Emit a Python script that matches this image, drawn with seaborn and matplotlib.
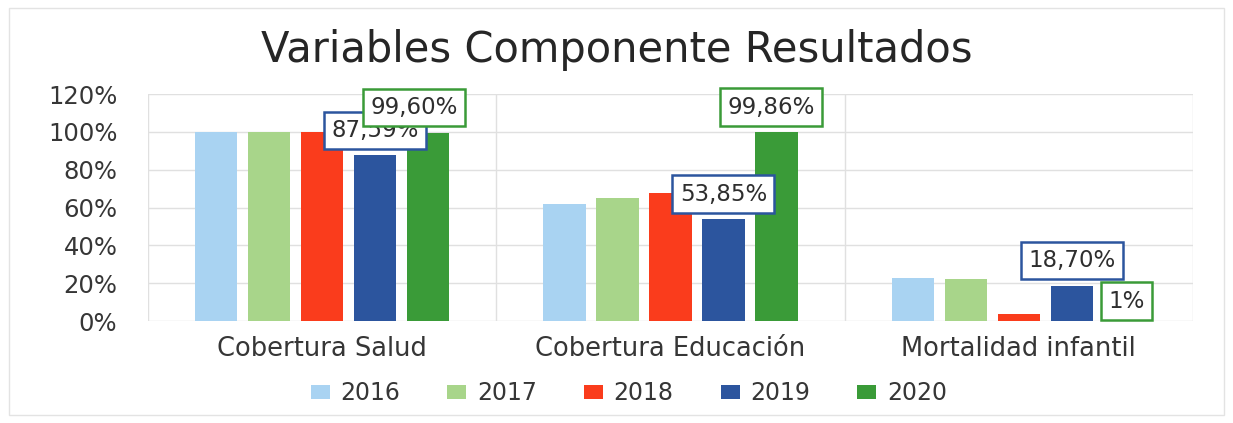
import matplotlib
matplotlib.use("Agg")
import matplotlib.pyplot as plt
import matplotlib.patches as mpatches
import pandas as pd
import seaborn as sns

# Indicator groups and reporting years
categorias = ["Cobertura Salud", "Cobertura Educación", "Mortalidad infantil"]
anios = ["2016", "2017", "2018", "2019", "2020"]

# Yearly values (fraction of 1) per indicator
v2016 = [1.000, 0.620, 0.227]
v2017 = [1.000, 0.650, 0.222]
v2018 = [1.000, 0.677, 0.036]
v2019 = [0.8759, 0.5385, 0.1870]
v2020 = [0.9960, 0.9986, 0.0100]

# Bars that carry a boxed value label: (indicator, year, decimals)
etiquetas = [
    ("Cobertura Salud", "2019", 2),
    ("Cobertura Salud", "2020", 2),
    ("Cobertura Educación", "2019", 2),
    ("Cobertura Educación", "2020", 2),
    ("Mortalidad infantil", "2019", 2),
    ("Mortalidad infantil", "2020", 0),
]

yticks = [0, 0.2, 0.4, 0.6, 0.8, 1.0, 1.2]
ytick_labels = ["0%", "20%", "40%", "60%", "80%", "100%", "120%"]

colores = ["#A9D3F2", "#A8D58A", "#FA3C1C", "#2C559E", "#3A9B38"]

series = [v2016, v2017, v2018, v2019, v2020]
df = pd.DataFrame(
    [(c, a, s[i]) for a, s in zip(anios, series) for i, c in enumerate(categorias)],
    columns=["categoria", "anio", "valor"],
)

sns.set_theme(style="white")
plt.rcParams["font.family"] = ["DejaVu Sans"]
texto = "#363636"

fig = plt.figure(figsize=(12.33, 4.23), dpi=100)
ax = fig.add_axes([0.1200, 0.2411, 0.8476, 0.5366])

sns.barplot(
    data=df, x="categoria", y="valor", hue="anio",
    order=categorias, hue_order=anios, palette=colores,
    width=0.76, gap=0.2, saturation=1, ax=ax, legend=False,
    edgecolor="none", linewidth=0,
)

ax.set_ylim(0, 1.2)
ax.set_xlim(-0.5, len(categorias) - 0.5)
ax.set_yticks(yticks)
ax.set_yticklabels(ytick_labels)
ax.set_xlabel("")
ax.set_ylabel("")
ax.tick_params(axis="y", length=0, pad=22, labelsize=17.5, labelcolor=texto)
ax.tick_params(axis="x", length=0, pad=11, labelsize=18.5, labelcolor=texto)
for lab in ax.get_yticklabels():
    lab.set_horizontalalignment("right")

# light horizontal grid and separators between indicator groups
ax.set_axisbelow(True)
ax.yaxis.grid(True, color="#E0E0E0", linewidth=1.0)
for xs in [-0.5 + k for k in range(len(categorias) + 1)]:
    ax.axvline(xs, color="#E0E0E0", linewidth=1.0, zorder=0)
for s in ax.spines.values():
    s.set_visible(False)

# boxed value labels above selected bars
desplaz = {
    ("Cobertura Salud", "2019"): (0, 18),
    ("Cobertura Salud", "2020"): (-10, 18),
    ("Cobertura Educación", "2019"): (0, 18),
    ("Cobertura Educación", "2020"): (-4, 18),
    ("Mortalidad infantil", "2019"): (0, 18),
    ("Mortalidad infantil", "2020"): (1, 13),
}
for cat, anio, dec in etiquetas:
    ci = categorias.index(cat)
    ai = anios.index(anio)
    bar = ax.containers[ai][ci]
    valor = series[ai][ci]
    txt = f"{valor * 100:.{dec}f}%".replace(".", ",")
    dx, dy = desplaz[(cat, anio)]
    ax.annotate(
        txt,
        xy=(bar.get_x() + bar.get_width() / 2, bar.get_height()),
        xytext=(dx, dy), textcoords="offset points",
        ha="center", va="center", fontsize=16.5, color="#2E2E2E", zorder=5 + ai,
        bbox=dict(boxstyle="square,pad=0.32", facecolor="white",
                  edgecolor=colores[ai], linewidth=1.8),
    )

fig.text(0.5, 0.882, "Variables Componente Resultados", ha="center", va="center",
         fontsize=30, color="#262626")

handles = [mpatches.Patch(facecolor=c, edgecolor="none") for c in colores]
fig.legend(handles, anios, loc="center", bbox_to_anchor=(0.510, 0.071), ncol=5,
           frameon=False, fontsize=17, labelcolor=texto, handlelength=0.8,
           handleheight=0.55, handletextpad=0.45, columnspacing=2.0)

# faint outer chart frame
fig.patches.append(mpatches.Rectangle((0.007, 0.02), 0.986, 0.96, transform=fig.transFigure,
                                      fill=False, edgecolor="#E3E3E3", linewidth=1.0))

fig.savefig("out.png", dpi=100, facecolor="white")
